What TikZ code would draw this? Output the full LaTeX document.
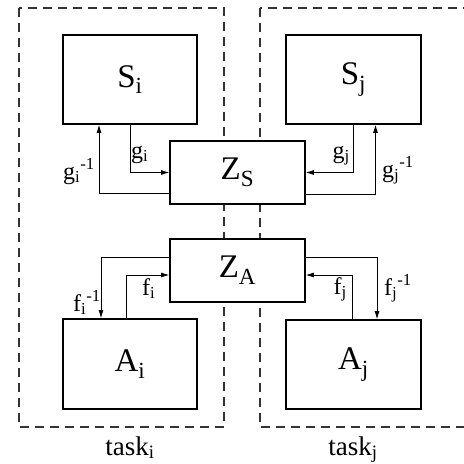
\documentclass[tikz,border=0pt]{standalone}
\usepackage{fontspec}
\setmainfont{Liberation Serif}
\usetikzlibrary{arrows.meta}
\tikzset{
  blk/.style={draw, fill=white, line width=1.6pt, inner sep=0pt, font=\fontsize{33}{38}\selectfont},
  taskbox/.style={draw=black!80, line width=1.1pt, dash pattern=on 9pt off 6pt},
  conn/.style={draw, line width=0.8pt, -{Latex[length=8pt,width=5pt]}},
  lbl/.style={inner sep=0pt, font=\fontsize{24}{28}\selectfont},
  tasklbl/.style={inner sep=0pt, font=\fontsize{27}{31}\selectfont}
}
\begin{document}
\begin{tikzpicture}[x=1pt,y=-1pt]
\clip (0,0) rectangle (464,464);
\useasboundingbox (0,0) rectangle (464,464);
\fill[white] (0,0) rectangle (464,464);
% task frames
\draw[taskbox] (19,8) rectangle (224,427);
\draw[taskbox] (260,8) rectangle (472,427);
% blocks
\node[blk, minimum width=134pt, minimum height=89pt] (Si) at (130,79.5) {S\textsubscript{i}};
\node[blk, minimum width=135pt, minimum height=89pt] (Sj) at (353.5,79.5) {S\textsubscript{j}};
\node[blk, minimum width=135pt, minimum height=63pt] (ZS) at (237.5,172.5) {Z\textsubscript{S}};
\node[blk, minimum width=135pt, minimum height=63pt] (ZA) at (237.5,270.5) {Z\textsubscript{A}};
\node[blk, minimum width=134pt, minimum height=90pt] (Ai) at (130,364) {A\textsubscript{i}};
\node[blk, minimum width=135pt, minimum height=89pt] (Aj) at (353.5,364.5) {A\textsubscript{j}};
% connectors left
\draw[conn] (Si.south) |- (ZS.west);
\draw[conn] ([yshift=-20.5pt]ZS.west) -| ([xshift=-31pt]Si.south);
\draw[conn] ([yshift=13.5pt]ZA.west) -| ([xshift=-29pt]Ai.north);
\draw[conn] ([xshift=-4pt]Ai.north) |- ([yshift=-4.5pt]ZA.west);
% connectors right
\draw[conn] (Sj.south) |- (ZS.east);
\draw[conn] ([yshift=-22pt]ZS.east) -| ([xshift=22pt]Sj.south);
\draw[conn] ([yshift=13.5pt]ZA.east) -| ([xshift=23.5pt]Aj.north);
\draw[conn] ([xshift=-1.5pt]Aj.north) |- ([yshift=-4.5pt]ZA.east);
% labels
\node[lbl, anchor=base west] (lgi) at (131,158) {g\textsubscript{i}};
\node[lbl, anchor=base east] (lgii) at (95,179) {g\textsubscript{i}\textsuperscript{-1}};
\node[lbl, anchor=base east] (lgj) at (350,158) {g\textsubscript{j}};
\node[lbl, anchor=base west] (lgjj) at (382,177) {g\textsubscript{j}\textsuperscript{-1}};
\node[lbl, anchor=base west] (lfi) at (142,295) {f\textsubscript{i}};
\node[lbl, anchor=base east] (lfii) at (101,311) {f\textsubscript{i}\textsuperscript{-1}};
\node[lbl, anchor=base east] (lfj) at (347,294) {f\textsubscript{j}};
\node[lbl, anchor=base west] (lfjj) at (384,295) {f\textsubscript{j}\textsuperscript{-1}};
\node[tasklbl, anchor=base] (ti) at (130,455) {task\textsubscript{i}};
\node[tasklbl, anchor=base] (tj) at (353,455) {task\textsubscript{j}};
\end{tikzpicture}
\end{document}
